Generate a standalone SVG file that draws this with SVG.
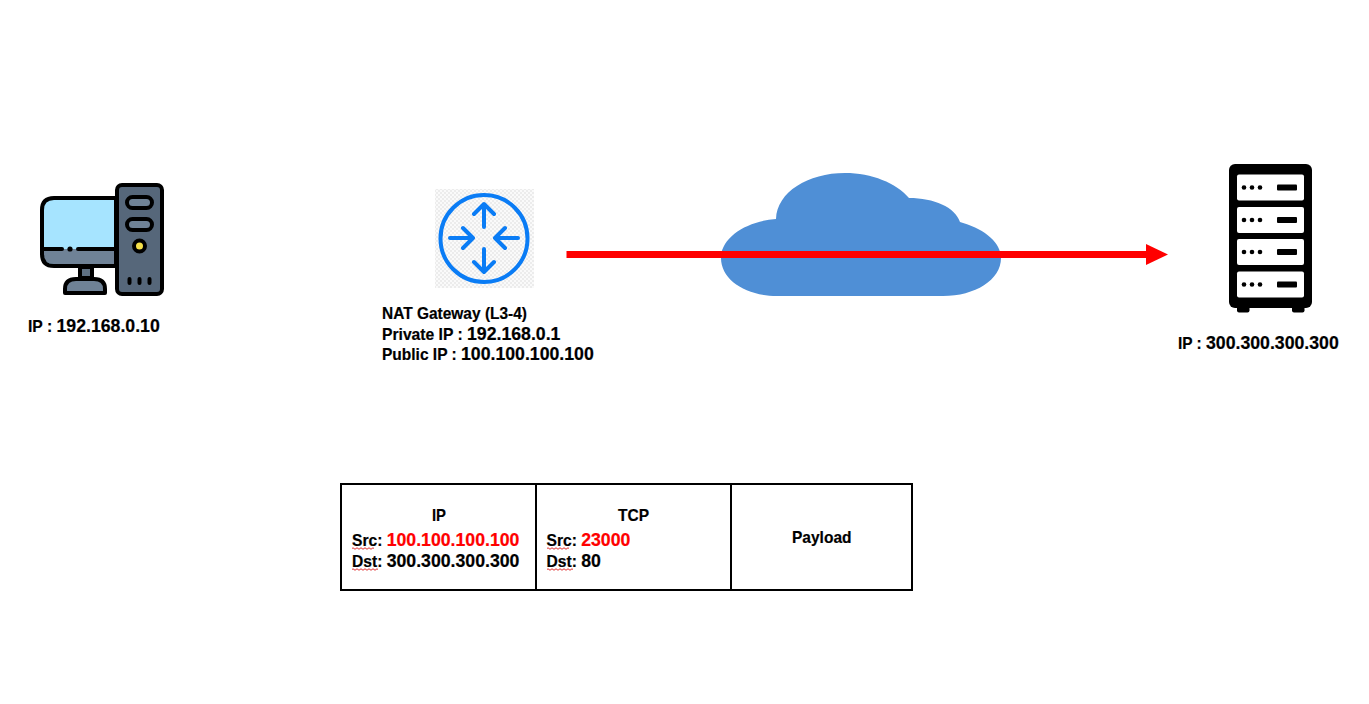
<svg xmlns="http://www.w3.org/2000/svg" width="1369" height="704" viewBox="0 0 1369 704">
<style>
text{font-family:"Liberation Sans",Arial,sans-serif;font-weight:700;font-size:17px;fill:#000;stroke:#000;stroke-width:.2px}
.n{font-size:17.700px}
.p{font-size:15.600px}
.r{fill:#f00;stroke:#f00}
.k{stroke:#000;stroke-width:4;stroke-linejoin:round}
.bl{fill:none;stroke:#0a7cf5;stroke-width:4;stroke-linecap:round;stroke-linejoin:round}
.sq{fill:none;stroke:#e03030;stroke-width:1}
.cell{fill:#fff;stroke:#000;stroke-width:2}
</style>
<defs>
<pattern id="chk" width="4" height="4" patternUnits="userSpaceOnUse"><rect width="4" height="4" fill="#fafafa"/><rect width="2" height="2" fill="#ececec"/><rect x="2" y="2" width="2" height="2" fill="#ececec"/></pattern>
<g id="shelf"><rect x="1237" y="0" width="67" height="26" rx="2" fill="#fff"/><circle cx="1244" cy="13" r="2.300" fill="#000"/><circle cx="1252" cy="13" r="2.300" fill="#000"/><circle cx="1260" cy="13" r="2.300" fill="#000"/><rect x="1277" y="10" width="20" height="6" rx="1" fill="#000"/></g>
</defs>
<rect width="1369" height="704" fill="#fff"/>
<g id="cloud"><path d="M721 258C721 237 747 221 776 219C777 192 808 173 845 173C872 173 896 183 909 198C934 198 955 207 960 222C982 228 1001 241 1001 258C1001 280 975 296 943 296H777C746 296 721 280 721 258Z" fill="#4f8fd6"/></g>
<g id="client">
<path d="M116 198H54Q42 198 42 210V254Q42 266 54 266H116Z" fill="#a6e4ff"/>
<path d="M44 249H116V264H54Q44 264 44 256Z" fill="#6f8296"/>
<path d="M44 249H62M78 249H116" stroke="#000" stroke-width="4" stroke-linecap="round"/><circle cx="70" cy="249" r="2.600" fill="#000"/>
<path d="M42 210Q42 198 54 198H116V266H54Q42 266 42 254Z" fill="none" class="k"/>
<rect x="80" y="267" width="12" height="11" fill="#5f7183" class="k"/>
<path d="M65 293V289Q65 279 76 279H94Q105 279 105 289V293Z" fill="#6f8296" class="k"/>
<rect x="117" y="185" width="45" height="109" rx="5" fill="#56677a" class="k"/>
<rect x="127" y="197" width="25" height="11" rx="5.500" fill="#6f8296" class="k"/>
<rect x="127" y="219" width="25" height="11" rx="5.500" fill="#6f8296" class="k"/>
<circle cx="139.500" cy="246" r="5.500" fill="#f5e04a" class="k"/>
<path d="M129.500 279V283M139.500 279V283M149.500 279V283" stroke="#000" stroke-width="4" stroke-linecap="round"/>
<text x="28" y="332"><tspan textLength="28.500" lengthAdjust="spacingAndGlyphs">IP : </tspan><tspan class="n">192.168.0.10</tspan></text>
</g>
<g id="nat">
<rect x="435" y="189" width="99" height="99" fill="url(#chk)"/>
<circle cx="484" cy="238.500" r="43.500" class="bl"/>
<path d="M484 204V227M474 214L484 204L494 214M484 249V272M474 262L484 272L494 262M450 238H473M463 228L473 238L463 248M518 238H495M505 228L495 238L505 248" class="bl"/>
<text x="382" y="319" textLength="145" lengthAdjust="spacingAndGlyphs">NAT Gateway (L3-4)</text>
<text x="382" y="340"><tspan textLength="85" lengthAdjust="spacingAndGlyphs">Private IP : </tspan><tspan class="n">192.168.0.1</tspan></text>
<text x="382" y="360"><tspan textLength="79" lengthAdjust="spacingAndGlyphs">Public IP : </tspan><tspan class="n">100.100.100.100</tspan></text>
</g>
<g id="server">
<rect x="1229" y="164" width="83" height="144" rx="6" fill="#000"/>
<rect x="1237" y="304" width="12.500" height="8.500" rx="2" fill="#000"/>
<rect x="1292" y="304" width="12.500" height="8.500" rx="2" fill="#000"/>
<use href="#shelf" y="174.500"/><use href="#shelf" y="207"/><use href="#shelf" y="239"/><use href="#shelf" y="271.500"/>
<text x="1178" y="349"><tspan textLength="28" lengthAdjust="spacingAndGlyphs">IP : </tspan><tspan class="n">300.300.300.300</tspan></text>
</g>
<g id="connectors">
<path d="M566.500 254.500H1148" stroke="#f00" stroke-width="7" fill="none"/>
<path d="M1146 244L1168 254.500L1146 265Z" fill="#f00"/>
</g>
<g id="packet">
<rect class="cell" x="341" y="484" width="195" height="106"/>
<rect class="cell" x="536" y="484" width="195" height="106"/>
<rect class="cell" x="731" y="484" width="181" height="106"/>
<text x="432" y="521" textLength="14" lengthAdjust="spacingAndGlyphs">IP</text>
<text x="352" y="546"><tspan class="p">Src: </tspan><tspan class="n r">100.100.100.100</tspan></text>
<text x="352" y="567"><tspan class="p">Dst: </tspan><tspan class="n">300.300.300.300</tspan></text>
<text x="618" y="521" textLength="31" lengthAdjust="spacingAndGlyphs">TCP</text>
<text x="546.500" y="546"><tspan class="p">Src: </tspan><tspan class="n r">23000</tspan></text>
<text x="546.500" y="567"><tspan class="p">Dst: </tspan><tspan class="n">80</tspan></text>
<text x="792" y="543" textLength="59.500" lengthAdjust="spacingAndGlyphs">Payload</text>
<path class="sq" d="M352 548.500q1 -1.500 2 0t2 0t2 0t2 0t2 0t2 0t2 0t2 0t2 0t2 0t2 0"/>
<path class="sq" d="M352 569.500q1 -1.500 2 0t2 0t2 0t2 0t2 0t2 0t2 0t2 0t2 0t2 0t2 0t2 0t2 0"/>
<path class="sq" d="M547 548.500q1 -1.500 2 0t2 0t2 0t2 0t2 0t2 0t2 0t2 0t2 0t2 0t2 0"/>
<path class="sq" d="M547 569.500q1 -1.500 2 0t2 0t2 0t2 0t2 0t2 0t2 0t2 0t2 0t2 0t2 0t2 0t2 0"/>
</g>
</svg>
